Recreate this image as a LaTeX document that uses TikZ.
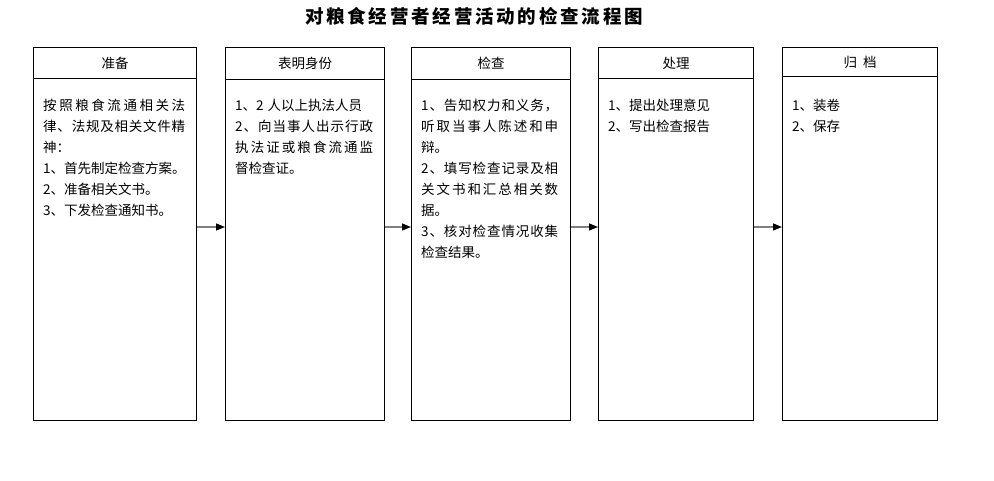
\documentclass[tikz,border=0pt]{standalone}
\usepackage{fontspec}
\setmainfont{Noto Sans CJK SC}
\usetikzlibrary{arrows.meta}
\makeatletter
\newcommand\spreadchars[2]{\makebox[#1][s]{\sprd@loop#2\@nil}}
\def\sprd@loop#1#2\@nil{#1\ifx\relax#2\relax\else\hfil\sprd@loop#2\@nil\fi}
\makeatother
\begin{document}
\begin{tikzpicture}[x=1pt,y=-1pt,
  box/.style={draw, line width=1pt, anchor=north west, inner sep=0pt, minimum height=373pt},
  hdr/.style={font=\fontsize{13.5}{15}\selectfont, inner sep=0pt},
  body/.style={font=\fontsize{13.5}{21}\selectfont, align=left, anchor=north west, inner sep=0pt},
  ttl/.style={font=\fontsize{18.5}{20}\selectfont\bfseries, inner sep=0pt},
  arr/.style={draw=black!50, line width=1.4pt, -{Triangle[length=9pt,width=7pt,color=black,fill=black]}}]
\useasboundingbox (0,0) rectangle (994,481);
\fill[white] (0,0) rectangle (994,481);
\node[ttl] (title) at (474,16) {\spreadchars{338pt}{对粮食经营者经营活动的检查流程图}};
% boxes
\node[box, minimum width=163pt] (b1) at (33,47) {};
\node[box, minimum width=159pt] (b2) at (225,47) {};
\node[box, minimum width=159pt] (b3) at (411,47) {};
\node[box, minimum width=155pt] (b4) at (598,47) {};
\node[box, minimum width=155pt] (b5) at (782,47) {};
% header separators
\draw[line width=1pt] (b1.west |- 0,79) -- (b1.east |- 0,79);
\draw[line width=1pt] (b2.west |- 0,80) -- (b2.east |- 0,80);
\draw[line width=1pt] (b3.west |- 0,80) -- (b3.east |- 0,80);
\draw[line width=1pt] (b4.west |- 0,79) -- (b4.east |- 0,79);
\draw[line width=1pt] (b5.west |- 0,77) -- (b5.east |- 0,77);
% headers
\node[hdr] (h1) at (b1.north |- 0,63) {准备};
\node[hdr] (h2) at (b2.north |- 0,63) {表明身份};
\node[hdr] (h3) at (b3.north |- 0,63) {检查};
\node[hdr] (h4) at (b4.north |- 0,63) {处理};
\node[hdr] (h5) at (b5.north |- 0,62) {归\hspace{6pt}档};
% bodies
\node[body] (t1) at (43,98.5) {\spreadchars{142pt}{按照粮食流通相关法}\\
\spreadchars{142pt}{律、法规及相关文件精}\\
神：\\
1、首先制定检查方案。\\
2、准备相关文书。\\
3、下发检查通知书。};
\node[body] (t2) at (235,98.5) {1、2\hspace{4pt}人以上执法人员\\
\spreadchars{138pt}{2、向当事人出示行政}\\
\spreadchars{138pt}{执法证或粮食流通监}\\
督检查证。};
\node[body] (t3) at (421,98.5) {\spreadchars{137pt}{1、告知权力和义务，}\\
\spreadchars{137pt}{听取当事人陈述和申}\\
辩。\\
\spreadchars{137pt}{2、填写检查记录及相}\\
\spreadchars{137pt}{关文书和汇总相关数}\\
据。\\
\spreadchars{137pt}{3、核对检查情况收集}\\
检查结果。};
\node[body] (t4) at (608,98.5) {1、提出处理意见\\
2、写出检查报告};
\node[body] (t5) at (792,98.5) {1、装卷\\
2、保存};
% arrows
\draw[arr] (b1.east |- 0,227) -- (b2.west |- 0,227);
\draw[arr] (b2.east |- 0,227) -- (b3.west |- 0,227);
\draw[arr] (b3.east |- 0,227) -- (b4.west |- 0,227);
\draw[arr] (b4.east |- 0,227) -- (b5.west |- 0,227);
\end{tikzpicture}
\end{document}
